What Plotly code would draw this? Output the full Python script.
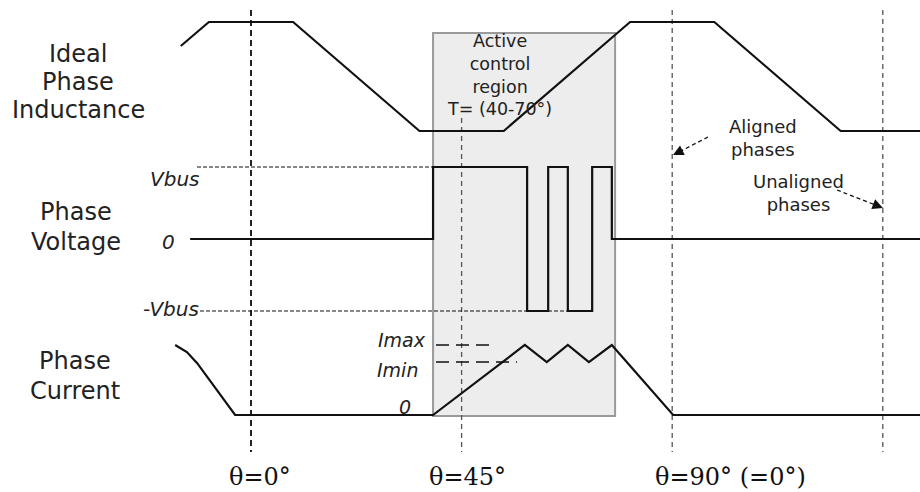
import plotly.graph_objects as go

# ---------------- data (angles in electrical degrees) ----------------
ind_theta = [-15, -9, 9, 36, 54, 81, 99, 126, 143]
ind_level = [0.78, 1, 1, 0, 0, 1, 1, 0, 0]

volt_theta = [-13, 38.9, 38.9, 59, 59, 63.5, 63.5, 67.7, 67.7, 72.9, 72.9, 77.1, 77.1, 143]
volt_level = [0, 0, 1, 1, -1, -1, 1, 1, -1, -1, 1, 1, 0, 0]

cur_theta = [-16.2, -13.7, -11.5, -3.4, 38.9, 58.5, 63.2, 67.7, 72.2, 77.1, 90.2, 143]
cur_level = [1, 0.9, 0.74, 0, 0, 1, 0.757, 1, 0.757, 1, 0, 0]

region_theta = [38.9, 77.8]
marker_theta = [0, 45, 90, 135]
marker_labels = ["θ=0°", "θ=45°", "θ=90° (=0°)"]
i_min_level = 0.757

# ---------------- layout helpers ----------------
PX_PER_DEG = 4.68
X0 = 251
def px2deg(px):
    return (px - X0) / PX_PER_DEG

IND_BASE, IND_SCALE = 131, 109
V_BASE, V_SCALE = 239, 72
I_BASE, I_SCALE = 415, 70

def ind_y(v): return IND_BASE - v * IND_SCALE
def v_y(v): return V_BASE - v * V_SCALE
def i_y(v): return I_BASE - v * I_SCALE

fig = go.Figure()

# active control region box
fig.add_shape(type="rect", xref="x", yref="y",
              x0=region_theta[0], x1=region_theta[1], y0=33, y1=I_BASE + 1,
              fillcolor="#ededed", line=dict(color="#9a9a9a", width=2), layer="below")

# vertical angle markers
vstyle = [dict(color="#222", width=2, dash="6px,4px"),
          dict(color="#555", width=1.3, dash="5px,4px"),
          dict(color="#555", width=1.3, dash="5px,4px"),
          dict(color="#555", width=1.3, dash="5px,4px")]
vtop = [10, 118, 10, 10]
for th, st, t in zip(marker_theta, vstyle, vtop):
    fig.add_trace(go.Scatter(x=[th, th], y=[t, 452], mode="lines", line=st, hoverinfo="skip"))

# Vbus guide lines
fig.add_trace(go.Scatter(x=[px2deg(197), region_theta[0]], y=[v_y(1), v_y(1)], mode="lines",
                         line=dict(color="#111", width=1.2, dash="4px,2px"), hoverinfo="skip"))
fig.add_trace(go.Scatter(x=[px2deg(200), volt_theta[9]], y=[v_y(-1), v_y(-1)], mode="lines",
                         line=dict(color="#111", width=1.2, dash="4px,2px"), hoverinfo="skip"))
# Imax / Imin guide lines
fig.add_trace(go.Scatter(x=[px2deg(436), px2deg(496)], y=[i_y(1), i_y(1)], mode="lines",
                         line=dict(color="#111", width=1.5, dash="13px,7px"), hoverinfo="skip"))
fig.add_trace(go.Scatter(x=[px2deg(436), px2deg(517)], y=[i_y(i_min_level), i_y(i_min_level)], mode="lines",
                         line=dict(color="#111", width=1.5, dash="13px,7px"), hoverinfo="skip"))

# waveforms
wave = dict(color="#111", width=2.2)
fig.add_trace(go.Scatter(x=ind_theta, y=[ind_y(v) for v in ind_level], mode="lines", line=wave, hoverinfo="skip"))
fig.add_trace(go.Scatter(x=volt_theta, y=[v_y(v) for v in volt_level], mode="lines", line=wave, hoverinfo="skip"))
fig.add_trace(go.Scatter(x=cur_theta, y=[i_y(v) for v in cur_level], mode="lines",
                         line=dict(color="#111", width=2.2, shape="linear"), hoverinfo="skip"))

# ---------------- text ----------------
SANS = "DejaVu Sans"
SERIF = "DejaVu Serif"
ann = []
def txt(px, py, s, size, family=SANS, style="normal", xanchor="center", color="#222"):
    ann.append(dict(x=px2deg(px), y=py, xref="x", yref="y", text=s, showarrow=False,
                    xanchor=xanchor, yanchor="middle", align="center",
                    font=dict(family=family, size=size, color=color, style=style)))

for s, py in [("Ideal", 54), ("Phase", 82), ("Inductance", 110)]:
    txt(78, py, s, 24)
for s, py in [("Phase", 212), ("Voltage", 242)]:
    txt(76, py, s, 24)
for s, py in [("Phase", 361), ("Current", 391)]:
    txt(75, py, s, 24)

txt(201, 179, "Vbus", 20, style="italic", xanchor="right")
txt(177, 242, "0", 20, style="italic", xanchor="right")
txt(201, 309, "-Vbus", 20, style="italic", xanchor="right")
txt(428, 340, "Imax", 19, style="italic", xanchor="right")
txt(420, 370, "Imin", 19, style="italic", xanchor="right")
txt(413, 407, "0", 19, style="italic", xanchor="right")

txt(499, 75, "Active<br>control<br>region<br>T= (40-70°)", 17.5)
txt(763, 138, "Aligned<br>phases", 18)
txt(798, 193, "Unaligned<br>phases", 18)

for lab, th in zip(marker_labels, marker_theta[:3]):
    off = {0: 9, 45: 6, 90: 58}[th]
    ann.append(dict(x=th + off / PX_PER_DEG, y=477, xref="x", yref="y", text=lab, showarrow=False,
                    xanchor="center", yanchor="middle",
                    font=dict(family=SERIF, size=24, color="#111")))

# dashed arrows
for (tx, ty), (hx, hy), (ax, ay) in [((708, 137), (673, 155), (11, -5.5)),
                                     ((837, 190), (883, 208), (-11, -4.3))]:
    fig.add_shape(type="line", xref="x", yref="y", x0=px2deg(tx), y0=ty,
                  x1=px2deg(hx + ax * 0.8), y1=hy + ay * 0.8,
                  line=dict(color="#111", width=1.3, dash="4px,3px"))
    ann.append(dict(x=px2deg(hx), y=hy, xref="x", yref="y", text="", showarrow=True,
                    ax=ax, ay=ay, arrowhead=2, arrowsize=1.4, arrowwidth=1.5, arrowcolor="#111"))

fig.update_layout(
    width=920, height=492, margin=dict(l=0, r=0, t=0, b=0),
    paper_bgcolor="white", plot_bgcolor="white", showlegend=False,
    xaxis=dict(range=[px2deg(0), px2deg(920)], visible=False, fixedrange=True),
    yaxis=dict(range=[492, 0], visible=False, fixedrange=True),
    annotations=ann,
)

fig.write_html("out.html", config={"displayModeBar": False},
               post_script="document.body.style.margin='0px';document.body.style.overflow='hidden';")
